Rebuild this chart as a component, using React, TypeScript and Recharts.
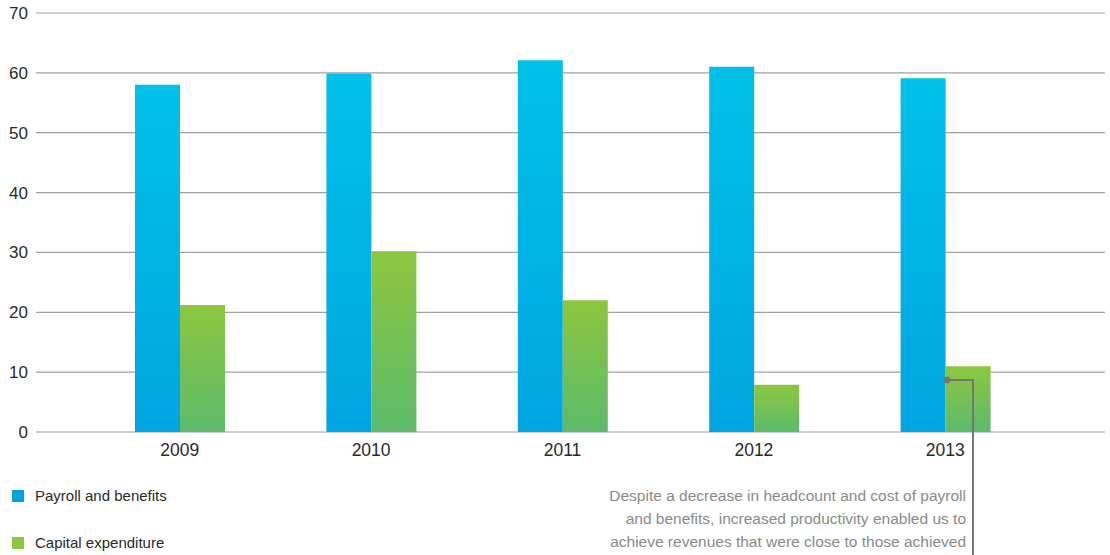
import { BarChart, Bar, XAxis, YAxis, CartesianGrid } from 'recharts';

const years = ['2009', '2010', '2011', '2012', '2013'];
const payroll = [58.0, 59.9, 62.1, 61.0, 59.1];
const capex = [21.2, 30.2, 22.0, 7.9, 11.0];
const yTicks = [0, 10, 20, 30, 40, 50, 60, 70];

const legendItems = [
  { label: 'Payroll and benefits', color: '#00a3e0' },
  { label: 'Capital expenditure', color: '#8dc63f' },
];

const noteLines = [
  'Despite a decrease in headcount and cost of payroll',
  'and benefits, increased productivity enabled us to',
  'achieve revenues that were close to those achieved',
  'in the previous year, and we kept our capital spend',
];

const data = years.map((year, i) => ({
  year,
  payroll: payroll[i],
  capex: capex[i],
}));

const font = '"Liberation Sans", Arial, sans-serif';

export default function App() {
  return (
    <div style={{ position: 'relative', width: 1110, height: 555, overflow: 'hidden', fontFamily: font }}>
      <style>{'body{margin:0}'}</style>
      <BarChart
        width={1110}
        height={555}
        data={data}
        barSize={45}
        barGap={0}
        margin={{ top: 13, right: 5, left: 0, bottom: 93 }}
      >
        <defs>
          <linearGradient id="gradBlue" x1="0" y1="0" x2="0" y2="1">
            <stop offset="0%" stopColor="#00c1e9" />
            <stop offset="100%" stopColor="#00a5e1" />
          </linearGradient>
          <linearGradient id="gradGreen" x1="0" y1="0" x2="0" y2="1">
            <stop offset="0%" stopColor="#8dc63f" />
            <stop offset="100%" stopColor="#5cbb6b" />
          </linearGradient>
        </defs>
        <CartesianGrid vertical={false} stroke="#a0a0a0" strokeWidth={1.2} />
        <XAxis
          dataKey="year"
          axisLine={false}
          tickLine={false}
          tickSize={0}
          tickMargin={12}
          height={30}
          padding={{ left: 48, right: 64 }}
          tick={{ fill: '#2a2a2a', fontSize: 17.5, fontFamily: font }}
        />
        <YAxis
          domain={[0, 70]}
          ticks={yTicks}
          width={36}
          axisLine={false}
          tickLine={false}
          tickSize={0}
          tickMargin={8}
          tick={{ fill: '#2a2a2a', fontSize: 17, fontFamily: font }}
        />
        <Bar dataKey="payroll" fill="url(#gradBlue)" isAnimationActive={false} />
        <Bar dataKey="capex" fill="url(#gradGreen)" isAnimationActive={false} />
      </BarChart>

      {legendItems.map((item, i) => (
        <div
          key={item.label}
          style={{
            position: 'absolute',
            left: 12,
            top: 487 + i * 47,
            display: 'flex',
            alignItems: 'center',
            fontSize: 15,
            color: '#2a2a2a',
          }}
        >
          <span style={{ width: 12, height: 12, background: item.color, marginRight: 11, display: 'inline-block' }} />
          {item.label}
        </div>
      ))}

      <div
        style={{
          position: 'absolute',
          right: 1110 - 966,
          top: 484,
          textAlign: 'right',
          fontSize: 15.5,
          lineHeight: '23px',
          color: '#8a8a8a',
          whiteSpace: 'nowrap',
        }}
      >
        {noteLines.map((line) => (
          <div key={line}>{line}</div>
        ))}
      </div>

      <svg width={1110} height={555} style={{ position: 'absolute', left: 0, top: 0, pointerEvents: 'none' }}>
        <polyline points="947,380 973,380 973,555" fill="none" stroke="#767676" strokeWidth={2} />
        <circle cx={947} cy={380} r={3.5} fill="#767676" />
      </svg>
    </div>
  );
}
